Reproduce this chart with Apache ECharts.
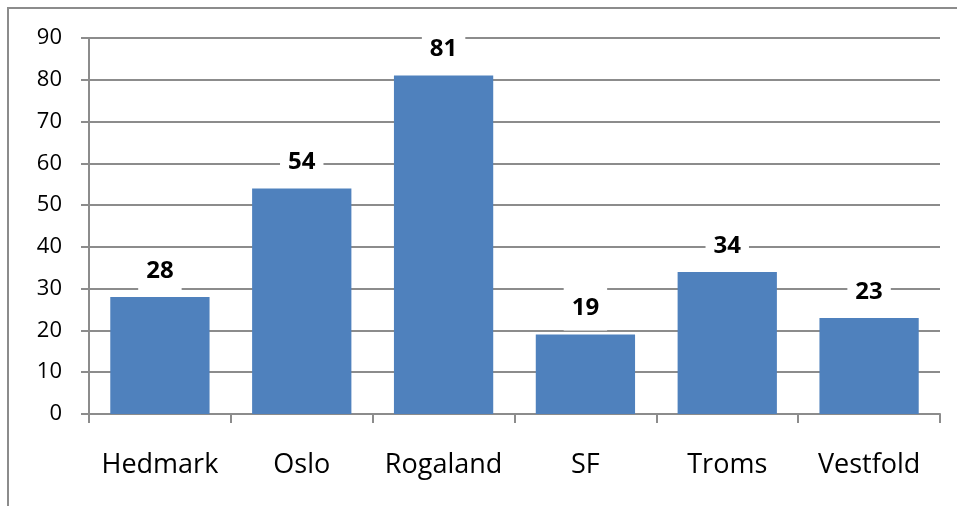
<!DOCTYPE html>
<html>
<head>
    <meta charset="utf-8">
    <title>bar chart</title>
    <script type="text/javascript" src="https://cdn.jsdelivr.net/npm/echarts@6/dist/echarts.min.js"></script>
    <style>
        html, body { margin: 0; padding: 0; background: #fff; }
    </style>
</head>
<body>
    <div id="main" style="width: 957px;height:506px;"></div>
    <script type="text/javascript">
        var categories = ['Hedmark', 'Oslo', 'Rogaland', 'SF', 'Troms', 'Vestfold'];
        var values = [28, 54, 81, 19, 34, 23];
        var yTicks = { min: 0, max: 90, interval: 10 };

        var chartDom = document.getElementById('main');
        var myChart = echarts.init(chartDom);
        var gray = '#8c8c8c';
        var option = {
            animation: false,
            textStyle: { fontFamily: 'Open Sans' },
            graphic: [
                {
                    type: 'polyline',
                    shape: { points: [[8, 520], [8, 8], [970, 8]] },
                    style: { stroke: gray, lineWidth: 2, fill: null }
                }
            ],
            grid: { left: 89, right: 17, top: 38, bottom: 92 },
            xAxis: {
                type: 'category',
                data: categories,
                axisLine: { lineStyle: { color: gray, width: 2 } },
                axisTick: { show: true, interval: 0, length: 9, lineStyle: { color: gray, width: 2 } },
                axisLabel: { color: '#000', fontSize: 27, margin: 38, interval: 0 }
            },
            yAxis: {
                type: 'value',
                min: yTicks.min,
                max: yTicks.max,
                interval: yTicks.interval,
                axisLine: { show: true, lineStyle: { color: gray, width: 2 } },
                axisTick: { show: true, length: 8, lineStyle: { color: gray, width: 2 } },
                axisLabel: { color: '#000', fontSize: 22, margin: 27 },
                splitLine: { lineStyle: { color: gray, width: 2 } }
            },
            series: [
                {
                    type: 'bar',
                    data: values,
                    barCategoryGap: '30%',
                    itemStyle: { color: '#4f81bd' },
                    label: {
                        show: true,
                        position: 'top',
                        distance: 4,
                        color: '#000',
                        fontWeight: 'bold',
                        fontSize: 24,
                        backgroundColor: '#fff',
                        padding: [10, 8, 10, 8]
                    }
                }
            ]
        };
        myChart.setOption(option);
    </script>
</body>
</html>
